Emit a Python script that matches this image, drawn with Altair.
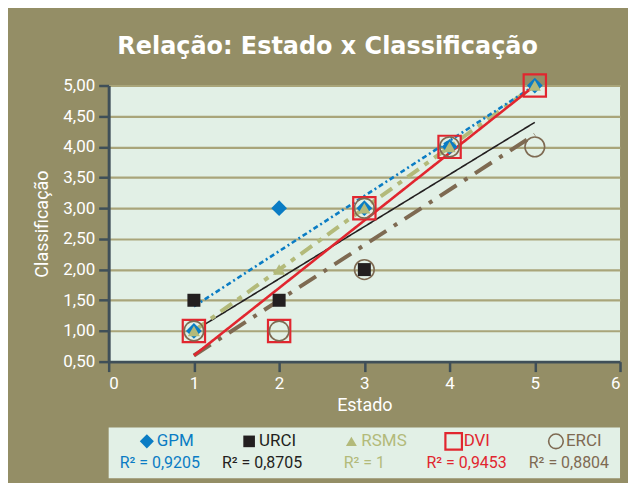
import altair as alt
import pandas as pd

# ---------------- data ----------------
estado = [1, 2, 3, 4, 5]
series_names = ["GPM", "URCI", "RSMS", "DVI", "ERCI"]
gpm = [1.0, 3.0, 3.0, 4.0, 5.0]
urci = [1.5, 1.5, 2.0, 4.0, 4.5]
rsms = [1.0, 2.0, 3.0, 4.0, 5.0]
dvi = [1.0, 1.0, 3.0, 4.0, 5.0]
erci = [1.0, 1.0, 2.0, 4.0, 4.0]
urci_marker_shown = [True, True, True, False, False]
erci_extra_x = [3]
erci_extra_y = [3.0]
r2_values = ["0,9205", "0,8705", "1", "0,9453", "0,8804"]
y_ticks = [0.5, 1.0, 1.5, 2.0, 2.5, 3.0, 3.5, 4.0, 4.5, 5.0]
x_ticks = [0, 1, 2, 3, 4, 5, 6]

# ---------------- styles ----------------
colors = {"GPM": "#0A7CC4", "URCI": "#231F20", "RSMS": "#B3BA7A",
          "DVI": "#E1262F", "ERCI": "#7E6A52"}
marker = {  # shape, size, filled, stroke width
    "GPM": ("diamond", 250, True, 0),
    "URCI": ("square", 170, True, 0),
    "RSMS": ("triangle-up", 150, True, 0),
    "DVI": ("square", 500, False, 2.2),
    "ERCI": ("circle", 390, False, 1.6),
}
line_style = {  # dash, width
    "ERCI": ([20, 9, 4, 9], 4),
    "URCI": ([1, 0], 1.6),
    "RSMS": ([14, 7, 5, 7], 4),
    "GPM": ([5, 3, 2, 3], 2.6),
    "DVI": ([1, 0], 2.6),
}
draw_order = ["DVI", "ERCI", "URCI", "GPM", "RSMS"]

BG = "#948E66"
PLOT_BG = "#E2F0E6"
GRID = "#A9A57A"
AXIS = "#3F4F58"
FONT = "Roboto"

values = {"GPM": gpm, "URCI": urci, "RSMS": rsms, "DVI": dvi, "ERCI": erci}

# table for regression lines
fit_rows = []
for s in series_names:
    for xv, yv in zip(estado, values[s]):
        fit_rows.append({"series": s, "x": xv, "y": yv})
fit_df = pd.DataFrame(fit_rows)

# table for markers
pt_rows = []
for s in draw_order:
    shape, size, filled, sw = marker[s]
    xs = list(estado)
    ys = list(values[s])
    show = [True] * len(xs)
    if s == "URCI":
        show = urci_marker_shown
    if s == "ERCI":
        xs += erci_extra_x
        ys += erci_extra_y
        show += [True] * len(erci_extra_x)
    for xv, yv, sh in zip(xs, ys, show):
        if not sh:
            continue
        pt_rows.append({"series": s, "x": xv, "y": yv, "shape": shape,
                        "size": size,
                        "fill": colors[s] if filled else "transparent",
                        "stroke": colors[s] if not filled else "transparent",
                        "sw": sw})
pt_df = pd.DataFrame(pt_rows)
pt_df["o"] = range(len(pt_df))

x_enc = alt.X("x:Q", scale=alt.Scale(domain=[0, 6], nice=False),
              axis=alt.Axis(values=x_ticks, format="d", title="Estado",
                            grid=False))
y_enc = alt.Y("y:Q", scale=alt.Scale(domain=[0.5, 5], nice=False, zero=False),
              axis=alt.Axis(values=y_ticks, title="Classificação", grid=True,
                            labelExpr="replace(format(datum.value, '.2f'), '.', ',')"))

layers = []
for s in ["ERCI", "URCI", "RSMS", "GPM", "DVI"]:
    dash, w = line_style[s]
    layers.append(
        alt.Chart(fit_df)
        .transform_filter(alt.datum.series == s)
        .transform_regression("x", "y")
        .mark_line(color=colors[s], strokeDash=dash, strokeWidth=w, clip=False)
        .encode(x=x_enc, y=y_enc)
    )

points = alt.Chart(pt_df).mark_point(filled=True, opacity=1, clip=False).encode(
    x=x_enc, y=y_enc,
    shape=alt.Shape("shape:N", scale=None),
    size=alt.Size("size:Q", scale=None),
    fill=alt.Fill("fill:N", scale=None),
    stroke=alt.Stroke("stroke:N", scale=None),
    strokeWidth=alt.StrokeWidth("sw:Q", scale=None),
    order=alt.Order("o:Q"),
)

main = alt.layer(*layers, points).properties(width=513, height=277)

# ---------------- legend ----------------
leg_rows = []
for s, r2 in zip(series_names, r2_values):
    shape, size, filled, sw = marker[s]
    leg_rows.append({"name": s, "r2": "R² = " + r2, "color": colors[s],
                     "shape": shape,
                     "size": size * (0.8 if filled else 0.55),
                     "fill": colors[s] if filled else "transparent",
                     "stroke": colors[s] if not filled else "transparent",
                     "sw": sw})
leg_df = pd.DataFrame(leg_rows)
lx = alt.X("name:N", sort=series_names,
           scale=alt.Scale(type="point", padding=0.5), axis=None)

leg_sym = alt.Chart(leg_df).mark_point(filled=True, opacity=1).encode(
    x=lx, y=alt.value(14), xOffset=alt.value(-13),
    shape=alt.Shape("shape:N", scale=None),
    size=alt.Size("size:Q", scale=None),
    fill=alt.Fill("fill:N", scale=None),
    stroke=alt.Stroke("stroke:N", scale=None),
    strokeWidth=alt.StrokeWidth("sw:Q", scale=None),
)
leg_name = alt.Chart(leg_df).mark_text(
    align="left", baseline="middle", dx=-3, font=FONT, fontSize=17
).encode(x=lx, y=alt.value(14), text="name:N",
         color=alt.Color("color:N", scale=None))
leg_r2 = alt.Chart(leg_df).mark_text(
    align="center", baseline="middle", font=FONT, fontSize=16
).encode(x=lx, y=alt.value(36), text="r2:N",
         color=alt.Color("color:N", scale=None))

legend = alt.layer(leg_sym, leg_name, leg_r2).properties(width=513, height=51)

chart = (
    alt.vconcat(main, legend, spacing=13)
    .properties(
        title=alt.TitleParams("Relação: Estado x Classificação",
                              font="DejaVu Sans",
                              fontSize=24, fontWeight="bold", color="white",
                              anchor="middle", offset=11),
        padding={"left": 25, "top": 26, "right": 6, "bottom": 4},
    )
    .configure(background=BG)
    .configure_view(fill=PLOT_BG, stroke=None)
    .configure_axis(
        labelFont=FONT, labelFontSize=17, labelColor="white",
        titleFont=FONT, titleFontSize=18, titleColor="white",
        titleFontWeight="normal",
        domainColor=AXIS, domainWidth=3, tickColor=AXIS, tickWidth=2.5,
        tickSize=10, labelPadding=4, gridColor=GRID, gridWidth=2.2,
    )
    .configure_axisY(titlePadding=11)
    .configure_axisX(titlePadding=5)
)

chart.save("out.html", embed_options={"renderer": "svg", "actions": False})
